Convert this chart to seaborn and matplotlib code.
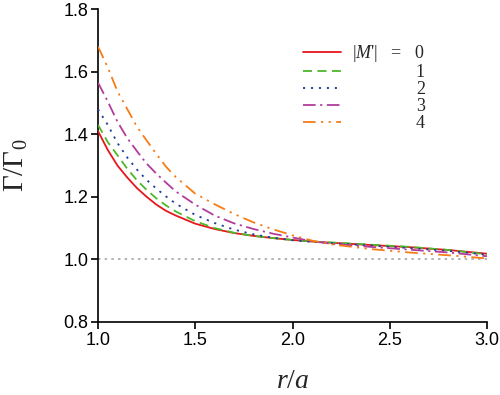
import numpy as np
import pandas as pd
import matplotlib
matplotlib.use("Agg")
import matplotlib.pyplot as plt
import seaborn as sns

r = [1.0, 1.05, 1.1, 1.15, 1.2, 1.25, 1.3, 1.35, 1.4, 1.5, 1.6, 1.7, 1.8, 1.9,
     2.0, 2.1, 2.2, 2.4, 2.6, 2.8, 3.0]
m0 = [1.41, 1.35, 1.30, 1.262, 1.228, 1.200, 1.175, 1.155, 1.140, 1.114, 1.097,
      1.084, 1.075, 1.068, 1.062, 1.057, 1.053, 1.046, 1.039, 1.030, 1.018]
m1 = [1.43, 1.375, 1.333, 1.29, 1.253, 1.222, 1.195, 1.172, 1.153, 1.122, 1.100,
      1.085, 1.075, 1.068, 1.062, 1.057, 1.054, 1.047, 1.040, 1.030, 1.016]
m2 = [1.48, 1.43, 1.372, 1.326, 1.287, 1.254, 1.226, 1.201, 1.178, 1.142, 1.116,
      1.095, 1.080, 1.069, 1.061, 1.056, 1.052, 1.044, 1.036, 1.027, 1.015]
m3 = [1.565, 1.505, 1.44, 1.388, 1.346, 1.306, 1.274, 1.245, 1.217, 1.175, 1.14,
      1.115, 1.097, 1.082, 1.070, 1.058, 1.050, 1.040, 1.031, 1.022, 1.010]
m4 = [1.68, 1.614, 1.537, 1.481, 1.424, 1.38, 1.337, 1.296, 1.263, 1.21, 1.176,
      1.145, 1.118, 1.096, 1.077, 1.060, 1.048, 1.033, 1.022, 1.013, 1.003]
series_labels = ["|$M$'|   =   0", "1", "2", "3", "4"]
series_values = [m0, m1, m2, m3, m4]
ref_level = 1.0
xticks = [1.0, 1.5, 2.0, 2.5, 3.0]
yticks = [0.8, 1.0, 1.2, 1.4, 1.6, 1.8]

colors = ["#e8161c", "#4cb82a", "#1f3c98", "#b23c9c", "#f57c16"]
dashes = [(None, None), (5, 3), (1.2, 3.2), (7, 2.5, 1.2, 2.5), (7, 3, 1.2, 3, 1.2, 3)]

sns.set_style("ticks")
plt.rcParams["font.family"] = ["Liberation Sans", "DejaVu Sans"]
plt.rcParams["mathtext.fontset"] = "custom"
plt.rcParams["mathtext.rm"] = "Liberation Serif"
plt.rcParams["mathtext.it"] = "Liberation Serif:italic"
plt.rcParams["mathtext.bf"] = "Liberation Serif:bold"

fig = plt.figure(figsize=(5.0, 3.95), dpi=100)
ax = fig.add_axes([0.196, 0.185, 0.778, 0.792])

ax.axhline(ref_level, color="#a8a8a8", lw=1.2, ls=(0, (1.5, 2.5)), zorder=1)

for lab, vals, c, d in zip(series_labels, series_values, colors, dashes):
    df = pd.DataFrame({"r": r, "g": vals})
    sns.lineplot(data=df, x="r", y="g", ax=ax, color=c, lw=1.3,
                 label=lab, zorder=3)
    ln = ax.get_lines()[-1]
    if d[0] is not None:
        ln.set_dashes(d)

ax.set_xlim(1.0, 3.0)
ax.set_ylim(0.8, 1.8)
ax.set_xticks(xticks)
ax.set_yticks(yticks)
ax.set_xticklabels([f"{t:.1f}" for t in xticks])
ax.set_yticklabels([f"{t:.1f}" for t in yticks])
ax.tick_params(axis="both", labelsize=13, length=5, width=1.2, direction="out",
               color="black", labelcolor="black", pad=2)
for s in ["top", "right"]:
    ax.spines[s].set_visible(False)
for s in ["left", "bottom"]:
    ax.spines[s].set_linewidth(1.2)
    ax.spines[s].set_color("black")

ax.set_xlabel(r"$r/a$", fontsize=20, labelpad=14)
ax.set_ylabel("Γ/Γ$_0$", fontsize=21, labelpad=24, family="Liberation Serif")

handles, labels = ax.get_legend_handles_labels()
leg = ax.legend(handles, labels, loc="upper left", bbox_to_anchor=(0.509, 0.914),
                frameon=False, handlelength=2.1, handletextpad=0.6,
                labelspacing=0.0, borderaxespad=0,
                prop={"family": "Liberation Serif", "size": 13})

fig.canvas.draw()
renderer = fig.canvas.get_renderer()
texts = leg.get_texts()
w0 = texts[0].get_window_extent(renderer)
for t in texts[1:]:
    w = t.get_window_extent(renderer)
    t.set_position((w0.x1 - w.x1, 0))

fig.savefig("out.png", dpi=100)
